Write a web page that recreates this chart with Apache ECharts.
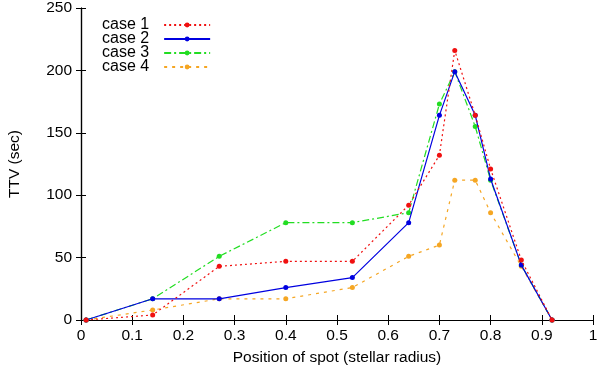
<!DOCTYPE html>
<html>
<head>
<meta charset="utf-8">
<script src="https://cdn.jsdelivr.net/npm/echarts@6/dist/echarts.min.js"></script>
<style>
  html, body { margin: 0; padding: 0; background: #fff; }
  #chart { width: 600px; height: 368px; }
</style>
</head>
<body>
<div id="chart"></div>
<script>
// spot positions (stellar radius)
const positions = [0.01, 0.14, 0.27, 0.40, 0.53, 0.64, 0.70, 0.73, 0.77, 0.80, 0.86, 0.92];

// TTV in seconds
const case1 = [0, 4, 43, 47, 47, 92, 132, 216, 164, 121, 48, 0];
const case2 = [0, 17, 17, 26, 34, 78, 164, 199, 164, 113, 44, 0];
const case3 = [0, 17, 51, 78, 78, 86, 173, 199, 155, 112, 44, 0];
const case4 = [0, 8, 17, 17, 26, 51, 60, 112, 112, 86, 43, 0];

const seriesNames = ["case 1", "case 2", "case 3", "case 4"];

const FONT = "Liberation Sans";
const FS = 15.5;

const styles = [
  { color: "#f01010", type: [2, 3] },        // dotted
  { color: "#0000e0", type: "solid" },
  { color: "#22dd22", type: [7, 3, 2, 3] },  // dash-dot
  { color: "#f5a623", type: [3, 5] },        // sparse dots
];

const pair = (ys) => positions.map((x, i) => [x, ys[i]]);

const series = [case1, case2, case3, case4].map((ys, i) => ({
  name: seriesNames[i],
  type: "line",
  data: pair(ys),
  symbol: "circle",
  symbolSize: 5,
  showSymbol: true,
  lineStyle: { width: 1.2, type: styles[i].type, color: styles[i].color },
  itemStyle: { color: styles[i].color },
  z: 10 - i,
}));

const chart = echarts.init(document.getElementById("chart"), null, { renderer: "canvas" });

const textStyle = { color: "#000", fontFamily: FONT, fontSize: FS };
const axisLine = { show: true, lineStyle: { color: "#000", width: 1.2 } };
const tick = { show: true, inside: true, length: 5, lineStyle: { color: "#000" } };

chart.setOption({
  animation: false,
  backgroundColor: "#fff",
  grid: { left: 81, right: 7, top: 8, bottom: 48, containLabel: false, outerBoundsMode: "none" },
  legend: {
    orient: "vertical",
    left: 97,
    top: 12,
    align: "right",
    itemWidth: 46,
    itemHeight: 6,
    itemGap: -2,
    textStyle: { ...textStyle, fontSize: 16, padding: [0, 10, 0, 0] },
    data: seriesNames,
  },
  xAxis: [
    {
      type: "value",
      min: 0,
      max: 1,
      interval: 0.1,
      name: "Position of spot (stellar radius)",
      nameLocation: "middle",
      nameGap: 30,
      nameTextStyle: textStyle,
      axisLine,
      axisTick: tick,
      axisLabel: { ...textStyle, margin: 8 },
      splitLine: { show: false },
    },
    {
      type: "value",
      position: "top",
      min: 0,
      max: 1,
      interval: 0.1,
      axisLine,
      axisTick: tick,
      axisLabel: { show: false },
      splitLine: { show: false },
    },
  ],
  yAxis: [
    {
      type: "value",
      min: 0,
      max: 250,
      interval: 50,
      name: "TTV (sec)",
      nameLocation: "middle",
      nameGap: 58,
      nameTextStyle: textStyle,
      axisLine,
      axisTick: tick,
      axisLabel: { ...textStyle, margin: 9 },
      splitLine: { show: false },
    },
    {
      type: "value",
      position: "right",
      min: 0,
      max: 250,
      interval: 50,
      axisLine,
      axisTick: tick,
      axisLabel: { show: false },
      splitLine: { show: false },
    },
  ],
  series,
});
</script>
</body>
</html>
